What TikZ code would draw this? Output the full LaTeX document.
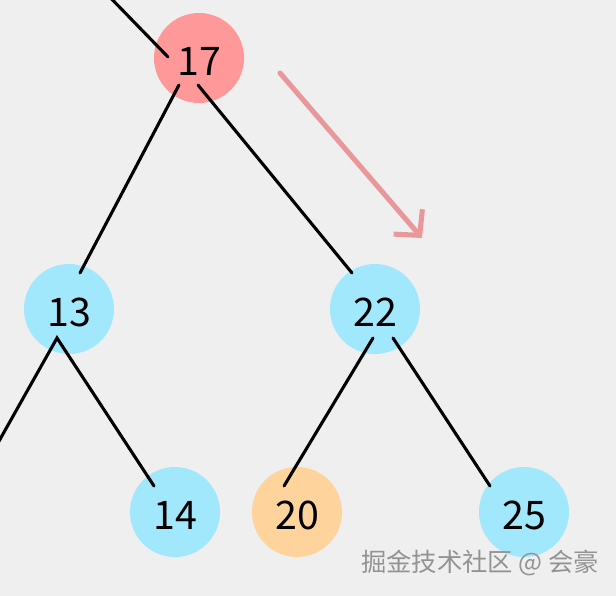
\documentclass[tikz,border=0pt]{standalone}
\usepackage{fontspec}
\setmainfont{Noto Sans CJK SC}
\usetikzlibrary{arrows.meta}
\definecolor{bgGray}{HTML}{EFEFEF}
\definecolor{nodeRed}{HTML}{FF9999}
\definecolor{nodeBlue}{HTML}{A2E8FD}
\definecolor{nodeOrange}{HTML}{FFD39C}
\definecolor{arrowPink}{HTML}{E8979A}
\definecolor{markGray}{HTML}{939393}

\begin{document}
\begin{tikzpicture}[x=0.025cm,y=-0.025cm,line cap=round,font=\fontsize{28}{30}\selectfont,
  key/.style={circle,minimum size=2.25cm,inner sep=0pt,text height=0.88cm,text depth=0pt,fill=#1},
  edge/.style={line width=2.2pt}]
\fill[bgGray] (0,0) rectangle (616,596);
\useasboundingbox (0,0) rectangle (616,596);
\clip (0,0) rectangle (616,596);
% tree
\node[key=nodeRed] (n17) at (199,58) {17};
\node[key=nodeBlue] (n13) at (69,309) {13};
\node[key=nodeBlue] (n22) at (375,309) {22};
\node[key=nodeBlue] (n14) at (175,512) {14};
\node[key=nodeOrange] (n20) at (297,512) {20};
\node[key=nodeBlue] (n25) at (524,512) {25};
\coordinate (up) at (100,-13);
\coordinate (out) at (-6,450);
\draw[edge] (up) -- ([shift={(-31,-1)}]n17.center);
\draw[edge] ([shift={(-20,27)}]n17.center) -- ([shift={(11,-36)}]n13.center);
\draw[edge] ([shift={(-1,27)}]n17.center) -- ([shift={(-23,-36)}]n22.center);
\draw[edge] (out) -- ([shift={(-12,29)}]n13.center) -- ([shift={(-21,-26)}]n14.center);
\draw[edge] ([shift={(-2,29)}]n22.center) -- ([shift={(-13,-26)}]n20.center);
\draw[edge] ([shift={(18,29)}]n22.center) -- ([shift={(-34,-26)}]n25.center);
% rotation hint
\coordinate (turn from) at (280,73);
\coordinate (turn to) at (422,238);
\draw[arrowPink,line width=3.6pt,-{Straight Barb[length=0.45cm,width=0.95cm]}] (turn from) -- (turn to);
\node[markGray,font=\fontsize{18}{20}\selectfont] (mark) at (480,563) {掘金技术社区 @ 会豪};
\end{tikzpicture}
\end{document}
